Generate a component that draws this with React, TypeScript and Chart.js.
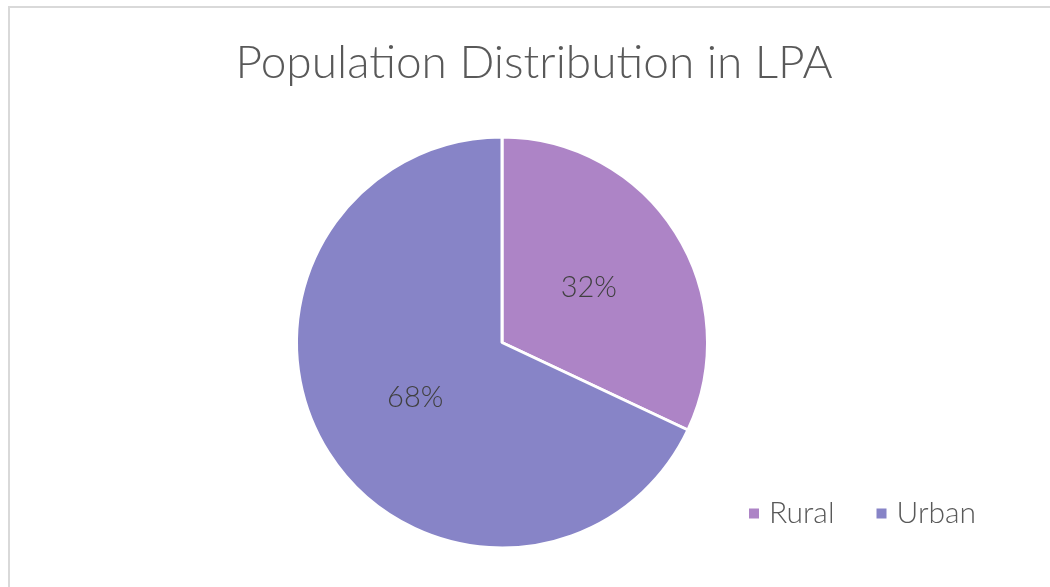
import React, { useEffect, useRef } from "react";
import { Chart, registerables } from "chart.js";

Chart.register(...registerables);

const TITLE = "Population Distribution in LPA";
const CATEGORIES = ["Rural", "Urban"];
const VALUES = [32, 68];
const COLORS = ["#AD84C6", "#8784C7"];
const FONT = "Lato, 'Open Sans', sans-serif";

const titlePlugin = {
  id: "titleDraw",
  afterDraw(chart: any) {
    const ctx = chart.ctx;
    ctx.save();
    ctx.fillStyle = "#595959";
    ctx.font = `300 46px ${FONT}`;
    ctx.textAlign = "center";
    ctx.textBaseline = "alphabetic";
    ctx.fillText(TITLE, 524, 70);
    ctx.restore();
  },
};

const labelPlugin = {
  id: "sliceLabels",
  afterDatasetsDraw(chart: any) {
    const ctx = chart.ctx;
    const meta = chart.getDatasetMeta(0);
    const total = VALUES.reduce((a, b) => a + b, 0);
    ctx.save();
    ctx.fillStyle = "#404040";
    ctx.font = `300 29px ${FONT}`;
    ctx.textAlign = "center";
    ctx.textBaseline = "middle";
    meta.data.forEach((arc: any, i: number) => {
      const p = arc.getCenterPoint();
      const pct = Math.round((VALUES[i] / total) * 100);
      ctx.fillText(pct + "%", p.x, p.y);
    });
    ctx.restore();
  },
};

const legendPlugin = {
  id: "legendDraw",
  afterDraw(chart: any) {
    const ctx = chart.ctx;
    ctx.save();
    ctx.font = `300 30px ${FONT}`;
    ctx.textBaseline = "middle";
    ctx.textAlign = "left";
    let x = 739;
    const y = 505.5;
    CATEGORIES.forEach((c, i) => {
      ctx.fillStyle = COLORS[i];
      ctx.fillRect(x, y - 5, 10, 10);
      ctx.fillStyle = "#595959";
      ctx.fillText(c, x + 20, y);
      x += 20 + ctx.measureText(c).width + 42;
    });
    ctx.restore();
  },
};

export default function App() {
  const ref = useRef<HTMLCanvasElement>(null);
  useEffect(() => {
    if (!ref.current) return;
    const chart = new Chart(ref.current, {
      type: "pie",
      data: {
        labels: CATEGORIES,
        datasets: [
          {
            data: VALUES,
            backgroundColor: COLORS,
            borderColor: "#ffffff",
            borderWidth: 3,
          },
        ],
      },
      options: {
        responsive: false,
        animation: false,
        layout: { padding: { left: 285, right: 341, top: 127.5, bottom: 37.5 } },
        plugins: {
          legend: { display: false },
          title: { display: false },
          tooltip: { enabled: false },
        },
      },
      plugins: [titlePlugin, labelPlugin, legendPlugin],
    });
    return () => chart.destroy();
  }, []);
  return (
    <div
      style={{
        position: "fixed",
        left: 8,
        top: 6,
        width: 1042,
        height: 581,
        borderTop: "2px solid #d9d9d9",
        borderLeft: "2px solid #d9d9d9",
        boxSizing: "border-box",
        background: "#fff",
      }}
    >
      <canvas ref={ref} width={1040} height={579} style={{ display: "block", width: 1040, height: 579 }} />
    </div>
  );
}
